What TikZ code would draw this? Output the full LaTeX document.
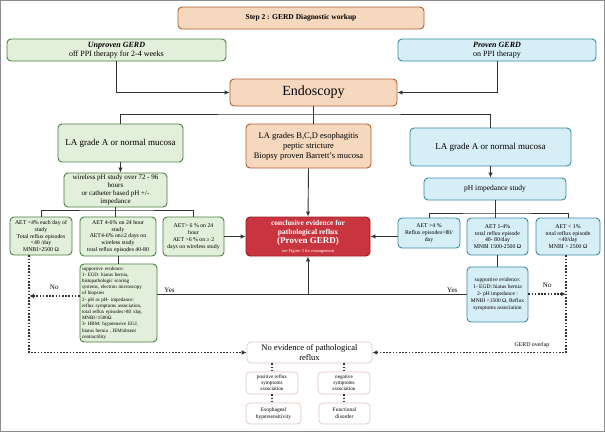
\documentclass[tikz,border=0pt]{standalone}
\usepackage{fontspec}
\setmainfont{Liberation Serif}
\usetikzlibrary{arrows.meta,calc}

\definecolor{peachfill}{HTML}{F6D8BE}
\definecolor{peachline}{HTML}{B35A34}
\definecolor{greenfill}{HTML}{E2EFDA}
\definecolor{greenline}{HTML}{4A7E3F}
\definecolor{bluefill}{HTML}{D6EEF6}
\definecolor{blueline}{HTML}{3A8CA5}
\definecolor{redfill}{HTML}{C9353E}
\definecolor{redline}{HTML}{9A2128}
\definecolor{pinkline}{HTML}{E2C8C0}
\definecolor{linegray}{HTML}{333333}
\definecolor{framegray}{HTML}{8C8C8C}

\newcommand{\setfs}[2]{\fontsize{#1}{#2}\selectfont}

\begin{document}
\begin{tikzpicture}[x=1pt,y=-1pt,
    box/.style={rounded corners=4pt, line width=0.9pt, align=center, inner sep=1pt},
    sz/.style 2 args={minimum width=#1pt, minimum height=#2pt},
    peachbox/.style={box, fill=peachfill, draw=peachline},
    greenbox/.style={box, fill=greenfill, draw=greenline},
    bluebox/.style={box, fill=bluefill, draw=blueline},
    redbox/.style={box, fill=redfill, draw=redline, text=white},
    pinkbox/.style={box, fill=white, draw=pinkline, line width=0.7pt},
    conn/.style={draw=linegray, line width=0.9pt},
    arr/.style={conn, -{Latex[length=5pt,width=4.5pt]}},
    dotline/.style={conn, line width=1.1pt, dash pattern=on 1.6pt off 1.6pt},
    dotarr/.style={dotline, -{Latex[length=5pt,width=4.5pt]}},
    lbl/.style={inner sep=1pt, font=\setfs{7}{8}},
    aet/.style={font=\setfs{5.8}{6.8}}]
    %%Background
    \useasboundingbox (0,0) rectangle (605,432);
    \draw[framegray, line width=1.2pt] (0.6,0.6) rectangle (604.4,431.4);

    %% top
    \node[peachbox, sz={246}{22}, font=\setfs{7.5}{9}\bfseries] (step) at (301,18) {Step 2 : GERD Diagnostic workup};
    \node[greenbox, sz={219}{22}, font=\setfs{8}{9}] (unproven) at (116.5,50) {\textbf{\textit{Unproven GERD}}\\off PPI therapy for 2-4 weeks};
    \node[bluebox, sz={198}{22}, font=\setfs{8}{9}] (proven) at (497,50) {\textbf{\textit{Proven GERD}}\\on PPI therapy};
    \node[peachbox, sz={167}{27}, font=\setfs{14}{16}] (endo) at (313.5,92.5) {Endoscopy};

    %% findings
    \node[greenbox, sz={125}{38}, font=\setfs{9}{10}] (laL) at (120.5,143) {LA grade A or normal mucosa};
    \node[peachbox, sz={125}{44}, font=\setfs{8.5}{10}] (mid) at (308.5,146) {LA grades B,C,D esophagitis\\peptic stricture\\Biopsy proven Barrett's mucosa};
    \node[bluebox, sz={161}{38}, font=\setfs{9}{10}] (laR) at (490.5,147) {LA grade A or normal mucosa};
    \node[greenbox, sz={103}{34}, font=\setfs{7}{8}] (wireless) at (115.5,190) {wireless pH study over 72 - 96\\hours\\or catheter based pH +/-\\impedance};
    \node[bluebox, sz={142}{22}, font=\setfs{7.5}{9}] (phimp) at (495,189) {pH impedance study};

    %% AET row
    \node[greenbox, sz={62}{38}, aet] (aetA) at (41,236) {AET <4\% each day of\\study\\Total reflux episodes\\<40 /day\\MNBI>2500 Ω};
    \node[greenbox, sz={76}{39}, aet] (aetB) at (118,236.5) {AET 4-6\% on 24 hour\\study\\AET4-6\% on≥2 days on\\wireless study\\total reflux episodes 40-80};
    \node[greenbox, sz={61}{39}, aet] (aetC) at (193.5,236.5) {AET> 6 \% on 24\\hour\\AET >6 \% on ≥ 2\\days on wireless study};
    \node[redbox, sz={124}{39}, font=\setfs{7.5}{9}\bfseries] (proof) at (308,236.5) {conclusive evidence for\\pathological reflux\\{\setfs{9}{10}(Proven GERD)}\\{\setfs{4.5}{5}\mdseries see Figure 3 for management}};
    \node[bluebox, sz={62}{30}, aet] (aetD) at (429,233) {AET >4 \%\\Reflux episodes>80/\\day};
    \node[bluebox, sz={61}{37}, aet] (aetE) at (497.5,236.5) {AET 1-4\%\\total reflux episode\\40- 80/day\\MNBI 1500-2500 Ω};
    \node[bluebox, sz={64}{37}, aet] (aetF) at (568,236.5) {AET < 1\%\\total reflux episode\\<40/day\\MNBI > 2500 Ω};

    %% supportive evidence
    \node[greenbox, sz={77}{78}, align=left, text width=73pt, font=\setfs{5}{6.2}] (supL) at (118.5,303) {supportive evidence:\\1- EGD: hiatus hernia,\\histopathologic scoring\\systems, electron microscopy\\of biopsies\\2- pH or pH- impedance:\\reflux symptoms association,\\total reflux episodes>80 /day,\\MNBI<1500Ω\\3- HRM: hypotensive EGJ,\\hiatus hernia , IEM/absent\\contractility};
    \node[bluebox, sz={61}{55}, font=\setfs{5.5}{7}] (supR) at (497.5,294.5) {supportive evidence:\\1- EGD: hiatus hernia\\2- pH impedance :\\MNBI <1500 Ω, Reflux\\symptoms association};

    %% no evidence
    \node[pinkbox, sz={125}{21}, font=\setfs{8.5}{9.5}] (noev) at (309.5,352.5) {No evidence of pathological\\reflux};
    \node[pinkbox, sz={52}{22}, font=\setfs{5.2}{6}] (pos) at (272,383) {positive reflux\\symptoms\\association};
    \node[pinkbox, sz={52}{22}, font=\setfs{5.2}{6}] (neg) at (344,383) {negative\\symptoms\\association};
    \node[pinkbox, sz={55}{21}, font=\setfs{5.5}{7}] (eso) at (273.5,413.5) {Esophageal\\hypersensitivity};
    \node[pinkbox, sz={51}{21}, font=\setfs{5.5}{7}] (func) at (344.5,413.5) {Functional\\disorder};
    \node[lbl, font=\setfs{5.8}{7}] (overlap) at (532,345) {GERD overlap};

    %% connectors
    \coordinate (split) at (313.5,114);
    \coordinate (wsplit) at (115.5,210);
    \coordinate (psplit) at (495,213);
    \coordinate (yes) at (308,294);
    \coordinate (railL) at (29,354);
    \coordinate (noL) at (29,296);
    \coordinate (railR) at (566,354);
    \coordinate (noR) at (566,294);

    \draw[arr] (unproven.south) |- (endo.west);
    \draw[arr] (proven.south) |- (endo.east);
    \draw[conn] (endo.south) -- (endo.south |- mid.north);
    \draw[conn] (laL.north) |- (split) -| (laR.north);
    \draw[arr] (laL.south) -- (laL.south |- wireless.north);
    \draw[arr] (laR.south) -- (laR.south |- phimp.north);

    \draw[conn] (wireless.south) -- (wireless.south |- aetB.north);
    \draw[conn] (aetA.north) |- (wsplit) -| (aetC.north);
    \draw[conn] (phimp.south) -- (phimp.south |- aetE.north);
    \draw[conn] (aetD.north) |- (psplit) -| (aetF.north);

    \draw[arr] (aetC.east) -- (proof.west);
    \draw[arr] (mid.south) -- (proof.north);
    \draw[arr] (aetD.west |- proof.east) -- (proof.east);

    \draw[conn] (aetB.south) -- (aetB.south |- supL.north);
    \draw[conn] (aetE.south) -- (aetE.south |- supR.north);
    \draw[conn] (supL.east |- yes) -- node[lbl, pos=0.08, above] (yesL) {Yes} (yes);
    \draw[conn] (supR.west |- yes) -- node[lbl, pos=0.09, above] (yesR) {Yes} (yes);
    \draw[arr] (yes) -- (proof.south);

    \draw[dotarr] (aetA.south -| railL) |- (noev.west);
    \draw[dotarr] (supL.west |- noL) -- node[lbl, above=5pt] (noLlbl) {No} (noL);
    \draw[dotarr] (aetF.south -| railR) |- (noev.east);
    \draw[dotarr] (supR.east |- noR) -- node[lbl, above=5pt] (noRlbl) {No} (noR);

    \draw[dotline] (noev.south -| pos.north) -- (pos.north);
    \draw[dotline] (noev.south -| neg.north) -- (neg.north);
    \draw[dotline] (pos.south) -- (pos.south |- eso.north);
    \draw[dotline] (neg.south) -- (neg.south |- func.north);
\end{tikzpicture}
\end{document}
